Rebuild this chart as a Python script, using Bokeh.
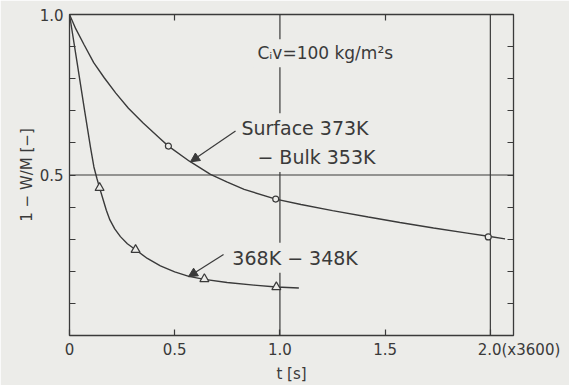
from bokeh.plotting import figure
from bokeh.models import LinearAxis, FixedTicker, Range1d, Label, Arrow, NormalHead, Span
from bokeh.embed import file_html
from bokeh.resources import INLINE

# ---- data ----
surf_t = [0, 0.03, 0.07, 0.115, 0.165, 0.22, 0.28, 0.35, 0.43, 0.47, 0.57, 0.67, 0.75, 0.83, 0.98,
          1.10, 1.25, 1.42, 1.57, 1.73, 1.89, 1.99, 2.07]
surf_v = [1.0, 0.955, 0.905, 0.85, 0.803, 0.755, 0.708, 0.662, 0.614, 0.59, 0.543, 0.502, 0.478, 0.455, 0.425,
          0.408, 0.389, 0.369, 0.352, 0.335, 0.319, 0.309, 0.301]
surf_mark_t = [0.47, 0.98, 1.99]
surf_mark_v = [0.59, 0.425, 0.307]

low_t = [0, 0.035, 0.072, 0.1, 0.116, 0.13, 0.143, 0.16, 0.175, 0.192, 0.215, 0.242, 0.275, 0.314, 0.37,
         0.432, 0.5, 0.567, 0.641, 0.749, 0.876, 0.983, 1.09]
low_v = [1.0, 0.855, 0.70, 0.585, 0.525, 0.49, 0.46, 0.423, 0.39, 0.36, 0.332, 0.308, 0.286, 0.267, 0.24,
         0.217, 0.198, 0.184, 0.175, 0.165, 0.157, 0.151, 0.148]
low_mark_t = [0.143, 0.314, 0.641, 0.983]
low_mark_v = [0.46, 0.267, 0.176, 0.151]

x_ticks = [0, 0.5, 1.0, 1.5, 2.0]
x_tick_labels = ["0", "0.5", "1.0", "1.5", "\u2007" * 6 + "2.0(x3600)"]
y_major = [0.5, 1.0]
y_tick_labels = ["0.5", "1.0"]
y_minor = [0.1, 0.2, 0.3, 0.4, 0.6, 0.7, 0.8, 0.9]
right_ticks = [0.1, 0.2, 0.3, 0.4, 0.5, 0.6, 0.7, 0.8, 0.9]
top_ticks = [0.5, 1.5]
grid_x = [1.0, 2.0]
grid_y = [0.5]

BG = "#ecece9"
INK = "#3a3a3a"
FONT = "DejaVu Sans"

p = figure(width=569, height=385, output_backend="svg", toolbar_location=None,
           x_range=Range1d(0, 2.11), y_range=Range1d(0, 1.0),
           min_border_left=69, min_border_right=56, min_border_top=14, min_border_bottom=49)
p.background_fill_color = BG
p.border_fill_color = BG
p.outline_line_color = INK
p.outline_line_width = 1.3
p.grid.visible = False

def style_axis(ax):
    ax.axis_line_color = None
    ax.major_tick_in = 6
    ax.major_tick_out = 0
    ax.minor_tick_in = 6
    ax.minor_tick_out = 0
    ax.major_tick_line_color = INK
    ax.minor_tick_line_color = INK
    ax.major_tick_line_width = 1.2
    ax.minor_tick_line_width = 1.2
    ax.major_label_text_font = FONT
    ax.major_label_text_color = INK
    ax.major_label_text_font_size = "15px"
    ax.axis_label_text_font = FONT
    ax.axis_label_text_color = INK
    ax.axis_label_text_font_style = "normal"
    ax.axis_label_text_font_size = "15px"

xa = p.xaxis[0]
style_axis(xa)
xa.ticker = FixedTicker(ticks=x_ticks)
xa.major_label_overrides = {t: s for t, s in zip(x_ticks, x_tick_labels)}
xa.major_label_standoff = 5
xa.axis_label = "t [s]"
xa.axis_label_standoff = 3

ya = p.yaxis[0]
style_axis(ya)
ya.ticker = FixedTicker(ticks=y_major, minor_ticks=y_minor)
ya.major_label_overrides = {t: s for t, s in zip(y_major, y_tick_labels)}
ya.major_label_standoff = 6
ya.axis_label = "1 − W/M [−]"
ya.axis_label_standoff = 1

ra = LinearAxis(ticker=FixedTicker(ticks=[], minor_ticks=right_ticks))
style_axis(ra)
p.add_layout(ra, "right")

ta = LinearAxis(ticker=FixedTicker(ticks=[], minor_ticks=top_ticks))
style_axis(ta)
p.add_layout(ta, "above")

for gx in grid_x:
    p.add_layout(Span(location=gx, dimension="height", line_color=INK, line_width=1.2, level="underlay"))
for gy in grid_y:
    p.add_layout(Span(location=gy, dimension="width", line_color=INK, line_width=1.2, level="underlay"))

# curves
p.line(surf_t, surf_v, line_color=INK, line_width=1.4)
p.line(low_t, low_v, line_color=INK, line_width=1.4)
p.scatter(surf_mark_t, surf_mark_v, marker="circle", size=6, fill_color=BG, line_color=INK, line_width=1.2)
p.scatter(low_mark_t, low_mark_v, marker="triangle", size=9, fill_color=BG, line_color=INK, line_width=1.2)

# annotations
def lab(x, y, text, size="19px"):
    l = Label(x=x, y=y, text=text, text_font=FONT, text_font_size=size, text_color=INK,
              text_baseline="alphabetic", background_fill_color=BG, padding=4)
    p.add_layout(l)

lab(0.874, 0.879, "Cᵢv=100 kg/m²s", "17px")
lab(0.798, 0.646, "Surface 373K")
lab(0.874, 0.556, "− Bulk 353K")
lab(0.755, 0.242, "368K − 348K")

for xs, ys, xe, ye in [(0.789, 0.637, 0.575, 0.541), (0.732, 0.252, 0.565, 0.183)]:
    p.add_layout(Arrow(end=NormalHead(size=9, fill_color=INK, line_color=INK),
                       x_start=xs, y_start=ys, x_end=xe, y_end=ye, line_color=INK, line_width=1.2))

open("out.html", "w").write(file_html(p, INLINE))
